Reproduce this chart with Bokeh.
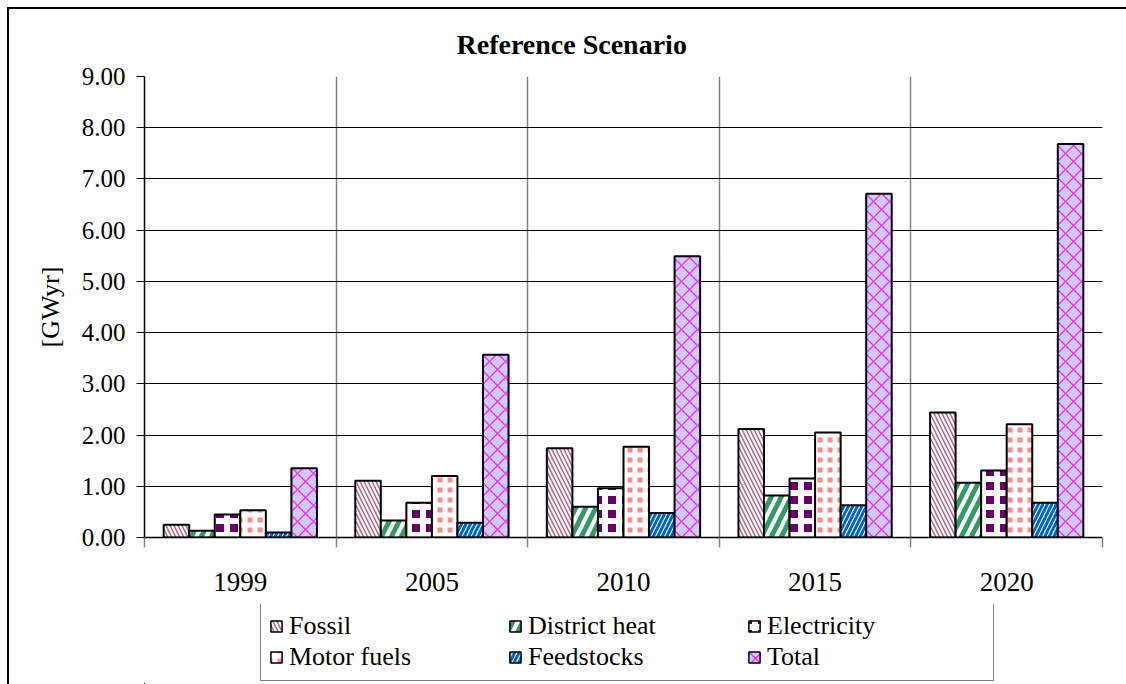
from bokeh.plotting import figure
from bokeh.layouts import column
from bokeh.models import (Range1d, FixedTicker, NumeralTickFormatter, Legend,
                          LegendItem, ColumnDataSource)
from bokeh.embed import file_html
from bokeh.resources import INLINE

# Energy demand by carrier, reference scenario [GWyr]
years = ["1999", "2005", "2010", "2015", "2020"]
fossil = [0.25, 1.11, 1.74, 2.12, 2.44]
district_heat = [0.13, 0.33, 0.60, 0.82, 1.07]
electricity = [0.45, 0.68, 0.96, 1.15, 1.31]
motor_fuels = [0.53, 1.20, 1.77, 2.05, 2.21]
feedstocks = [0.10, 0.29, 0.48, 0.63, 0.68]
total = [1.35, 3.57, 5.49, 6.71, 7.68]

series_names = ["Fossil", "District heat", "Electricity", "Motor fuels", "Feedstocks", "Total"]
series_values = [fossil, district_heat, electricity, motor_fuels, feedstocks, total]
y_ticks = [0, 1, 2, 3, 4, 5, 6, 7, 8, 9]

SERIF = "Liberation Serif"

# fill + hatch per series (block patterns come from a coloured fill cut by a white grid)
series_styles = [
    dict(fill_color="white", hatch_pattern="\\", hatch_color="#b06a8c", hatch_scale=8, hatch_weight=1.5),
    dict(fill_color="white", hatch_pattern="/", hatch_color="#339966", hatch_scale=20, hatch_weight=5),
    dict(fill_color="#660066", hatch_pattern="+", hatch_color="white", hatch_scale=14, hatch_weight=6),
    dict(fill_color="#ff8c8c", hatch_pattern="+", hatch_color="white", hatch_scale=10, hatch_weight=5),
    dict(fill_color="white", hatch_pattern="/", hatch_color="#0066cc", hatch_scale=9, hatch_weight=3),
    dict(fill_color="#ccccff", hatch_pattern="x", hatch_color="#ff22ff", hatch_scale=16, hatch_weight=1.3),
]

n_series = len(series_names)
bar_w = 1 / (n_series + 1.5)

p = figure(width=1117, height=595, x_range=Range1d(0, len(years)), y_range=Range1d(0, 9),
           output_backend="svg", toolbar_location=None,
           min_border_left=135, min_border_right=24, min_border_top=67, min_border_bottom=67)

sources = []
for j, (vals, st) in enumerate(zip(series_values, series_styles)):
    xs = [i + 0.5 + (j - (n_series - 1) / 2) * bar_w for i in range(len(years))]
    src = ColumnDataSource(dict(x=xs, top=vals))
    sources.append(src)
    p.vbar(x="x", top="top", bottom=0, width=bar_w, source=src,
           line_color="black", line_width=2, **st)

# title
p.title.text = "Reference Scenario"
p.title.text_font = SERIF
p.title.text_font_size = "28px"
p.title.text_font_style = "bold"
p.title.text_color = "black"
p.title.align = "left"
p.title.offset = 312
p.title.standoff = 34

p.outline_line_color = None
p.background_fill_color = "white"
p.border_fill_color = "white"

# x axis: labels at group centres, ticks and grid at group boundaries
centres = [i + 0.5 for i in range(len(years))]
bounds = list(range(len(years) + 1))
p.xaxis.ticker = FixedTicker(ticks=centres, minor_ticks=bounds)
p.xaxis.major_label_overrides = {c: y for c, y in zip(centres, years)}
p.xaxis.major_tick_out = 0
p.xaxis.major_tick_in = 0
p.xaxis.minor_tick_out = 10
p.xaxis.minor_tick_in = 0
p.xaxis.minor_tick_line_color = "#808080"
p.xaxis.minor_tick_line_width = 1.5
p.xaxis.axis_line_color = "black"
p.xaxis.axis_line_width = 1.5
p.xaxis.major_label_text_font = SERIF
p.xaxis.major_label_text_font_size = "27px"
p.xaxis.major_label_text_color = "black"
p.xaxis.major_label_standoff = 25
p.xgrid.grid_line_color = None
p.xgrid.minor_grid_line_color = "#808080"
p.xgrid.minor_grid_line_width = 1.5

# y axis
p.yaxis.ticker = FixedTicker(ticks=y_ticks)
p.yaxis.formatter = NumeralTickFormatter(format="0.00")
p.yaxis.major_tick_out = 8
p.yaxis.major_tick_in = 0
p.yaxis.minor_tick_line_color = None
p.yaxis.major_tick_line_color = "black"
p.yaxis.axis_line_color = "black"
p.yaxis.axis_line_width = 1.5
p.yaxis.major_label_text_font = SERIF
p.yaxis.major_label_text_font_size = "25px"
p.yaxis.major_label_text_color = "black"
p.yaxis.major_label_standoff = 11
p.yaxis.axis_label = "[GWyr]"
p.yaxis.axis_label_text_font = SERIF
p.yaxis.axis_label_text_font_size = "26px"
p.yaxis.axis_label_text_font_style = "normal"
p.yaxis.axis_label_text_color = "black"
p.yaxis.axis_label_standoff = 14
p.ygrid.grid_line_color = "black"
p.ygrid.grid_line_width = 1.2

# legend strip under the chart; its swatch renderers share the bar data,
# with ranges chosen so that none of the bars falls inside the strip
lf = figure(width=1117, height=80, x_range=Range1d(100, 105), y_range=Range1d(100, 101),
            output_backend="svg", toolbar_location=None, min_border=0)
lf.axis.visible = False
lf.grid.visible = False
lf.outline_line_color = None
lf.background_fill_color = "white"
lf.border_fill_color = "white"

swatches = [lf.vbar(x="x", top="top", bottom="top", width=bar_w, source=src,
                    line_color="black", line_width=1.5, **st)
            for src, st in zip(sources, series_styles)]

legend = Legend(items=[LegendItem(label=n, renderers=[r]) for n, r in zip(series_names, swatches)],
                location=(116, 3), orientation="horizontal", ncols=3, margin=0,
                label_text_font=SERIF, label_text_font_size="26px", label_text_color="black",
                glyph_width=14, glyph_height=14, label_standoff=6, label_width=218,
                spacing=1, padding=8, border_line_color="black", border_line_width=1.5,
                background_fill_color="white", background_fill_alpha=1)
lf.add_layout(legend, "center")

page = column(p, lf, spacing=0,
              styles={"margin-left": "7px", "margin-top": "7px",
                      "border-left": "2px solid black", "border-top": "2px solid black"})

open("out.html", "w").write(file_html(page, INLINE))
